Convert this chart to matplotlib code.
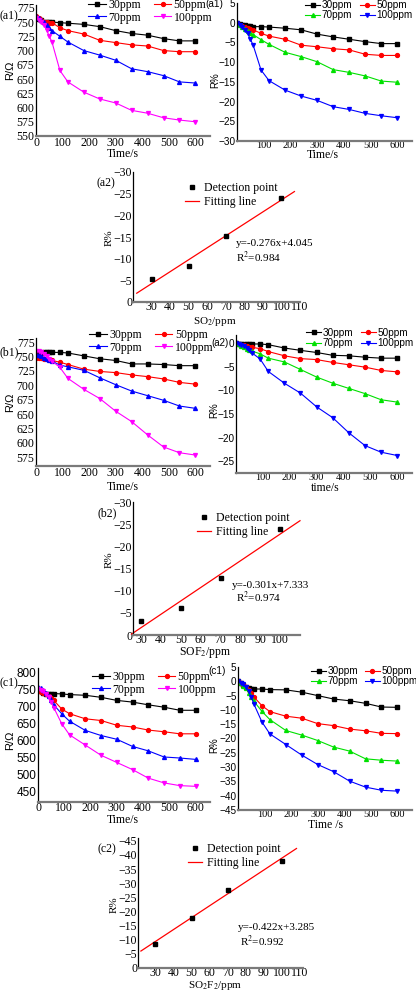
import matplotlib.pyplot as plt
import numpy as np

plt.rcParams["mathtext.fontset"] = "stix"

# sampling times (s)
t = [0, 10, 20, 30, 40, 50, 60, 90, 120, 180, 240, 300, 360, 420, 480, 540, 600]

# (a1) resistance, SO2
a1_r30 = [757, 755, 753, 751, 750, 750, 750, 749, 748, 746, 742, 735, 730, 727, 721, 717, 717]
a1_r50 = [760, 757, 754, 751, 750, 749, 749, 740, 735, 729, 718, 714, 710, 708, 700, 698, 698]
a1_r70 = [760, 757, 753, 750, 745, 740, 735, 725, 715, 700, 692, 683, 668, 663, 656, 645, 643]
a1_r100 = [757, 754, 750, 745, 736, 725, 715, 665, 645, 627, 615, 608, 595, 590, 582, 578, 575]
# (a1) response %
a1_p30 = [0, -0.3, -0.5, -0.7, -0.8, -0.9, -1.0, -1.0, -1.1, -1.4, -1.8, -2.9, -3.6, -4.2, -4.8, -5.3, -5.3]
a1_p50 = [0, -0.5, -0.8, -1.0, -1.3, -1.6, -1.8, -2.7, -3.4, -4.2, -5.7, -6.1, -6.6, -6.9, -8.0, -8.3, -8.3]
a1_p70 = [0, -0.5, -1.0, -1.5, -2.0, -2.5, -3.0, -4.3, -5.5, -7.5, -8.6, -9.9, -11.9, -12.6, -13.5, -14.8, -15.1]
a1_p100 = [0, -0.6, -1.2, -1.8, -2.7, -4.2, -5.6, -12.0, -14.7, -17.1, -18.6, -19.7, -21.3, -22.0, -23.0, -23.6, -24.1]

# (b1) resistance, SOF2
b1_r30 = [752, 754, 756, 757, 757, 757, 757, 757, 756, 751, 746, 743, 737, 737, 736, 734, 734]
b1_r50 = [748, 747, 747, 746, 745, 744, 743, 740, 736, 728, 724, 722, 718, 715, 711, 705, 702]
b1_r70 = [753, 752, 750, 748, 746, 744, 742, 735, 732, 726, 713, 701, 690, 682, 674, 664, 660]
b1_r100 = [760, 759, 757, 754, 750, 746, 742, 731, 712, 693, 677, 655, 637, 614, 593, 583, 579]
b1_p30 = [0, -0.1, -0.1, -0.2, -0.2, -0.2, -0.2, -0.2, -0.35, -1.05, -1.55, -2.0, -2.6, -2.7, -3.0, -3.2, -3.2]
b1_p50 = [0, -0.2, -0.4, -0.5, -0.6, -0.8, -0.9, -1.2, -1.8, -2.7, -3.3, -3.5, -4.1, -4.6, -5.1, -5.8, -6.1]
b1_p70 = [0, -0.3, -0.6, -0.9, -1.2, -1.5, -1.7, -2.3, -3.2, -4.0, -5.6, -7.2, -8.5, -9.6, -10.7, -12.0, -12.5]
b1_p100 = [0, -0.2, -0.4, -0.6, -1.0, -1.5, -2.1, -3.4, -6.0, -8.5, -10.6, -13.5, -15.8, -19.0, -21.7, -23.1, -23.8]

# (c1) resistance, SO2F2
c1_r30 = [750, 745, 740, 738, 738, 738, 738, 737, 735, 733, 727, 718, 713, 705, 698, 689, 689]
c1_r50 = [745, 742, 739, 736, 732, 726, 718, 693, 679, 664, 659, 645, 640, 631, 626, 620, 620]
c1_r70 = [757, 754, 748, 740, 730, 718, 705, 679, 657, 630, 615, 604, 583, 570, 552, 549, 545]
c1_r100 = [750, 748, 745, 738, 727, 713, 697, 650, 617, 587, 557, 536, 515, 490, 476, 468, 466]
c1_p30 = [0, -0.6, -1.2, -2.0, -2.5, -2.7, -2.7, -2.7, -2.9, -3.0, -3.8, -5.0, -6.2, -6.8, -7.7, -9.0, -9.1]
c1_p50 = [0, -0.5, -1.2, -2.0, -3.0, -4.0, -5.5, -8.5, -10.6, -12.2, -12.9, -14.8, -15.5, -16.7, -17.3, -18.2, -18.3]
c1_p70 = [0, -0.5, -1.5, -2.5, -4.0, -5.5, -7.0, -10.5, -13.4, -17.2, -18.8, -20.7, -23.0, -24.4, -27.1, -27.6, -27.9]
c1_p100 = [0, -0.5, -1.0, -2.0, -3.5, -5.5, -8.0, -14.2, -18.4, -22.1, -25.8, -29.1, -31.6, -34.9, -37.0, -38.1, -38.4]

# fitting panels
conc = [30, 50, 70, 100]
a2_det = [-5.2, -8.3, -15.2, -24.0]
b2_det = [-3.1, -6.0, -12.8, -23.8]
c2_det = [-8.4, -17.7, -27.6, -37.8]
a2_fit = (-0.276, 4.045)
b2_fit = (-0.301, 7.333)
c2_fit = (-0.422, 3.285)
a2_fx = [22, 107]
b2_fx = [25, 110]
c2_fx = [22, 108]

labels = ["30ppm", "50ppm", "70ppm", "100ppm"]
markers = ["s", "o", "^", "v"]
col_left = ["black", "red", "blue", "magenta"]
col_right = ["black", "red", "#00e000", "blue"]

SERIF = "Liberation Serif"
SANS = "Liberation Sans"

W, H = 416, 992
fig = plt.figure(figsize=(W / 100, H / 100), dpi=100)


def fx(x):
    return x / W


def fy(y):
    return 1 - y / H


def add_ax(l, t_, r, b):
    ax = fig.add_axes([l / W, 1 - b / H, (r - l) / W, (b - t_) / H])
    ax.set_facecolor("none")
    ax.spines["top"].set_visible(False)
    ax.spines["right"].set_visible(False)
    ax.spines["left"].set_color("black")
    ax.spines["left"].set_linewidth(0.9)
    ax.spines["bottom"].set_color("#7a7a7a")
    ax.spines["bottom"].set_linewidth(1.6)
    ax.tick_params(length=0, pad=1)
    return ax


def style_ticks(ax, xfont, yfont, xs, ys):
    for lb in ax.get_xticklabels():
        lb.set_fontfamily(xfont)
        lb.set_fontsize(xs)
    for lb in ax.get_yticklabels():
        lb.set_fontfamily(yfont)
        lb.set_fontsize(ys)


def series(ax, data, colors, lx, ly, font, fs, colsp):
    hs = []
    for vals, c, m, lab in zip(data, colors, markers, labels):
        h, = ax.plot(t, vals, color=c, marker=m, ms=2.8, lw=0.8, label=lab)
        hs.append(h)
    ax.set_xlim(0, 655)
    order = [hs[0], hs[2], hs[1], hs[3]]
    ax.legend(order, [h.get_label() for h in order], ncol=2, frameon=False,
              loc="upper left", bbox_to_anchor=(fx(lx), fy(ly)),
              bbox_transform=fig.transFigure, borderpad=0, borderaxespad=0,
              handlelength=1.5, handletextpad=0.2, columnspacing=colsp,
              labelspacing=0.05, prop={"family": font, "size": fs})


def fit_panel(ax, det, fit, fxr, xlim, ylim, lx, ly, eq_x, eq_y, r2_x, r2_y, eq, r2):
    xs = np.array(fxr, dtype=float)
    ax.plot(xs, fit[0] * xs + fit[1], color="red", lw=0.9, clip_on=False,
            label="Fitting line")
    ax.plot(conc, det, ls="none", marker="s", ms=2.2, color="black",
            label="Detection point")
    ax.set_xlim(*xlim)
    ax.set_ylim(*ylim)
    ax.set_xticks(range(30, 111, 10))
    h, l = ax.get_legend_handles_labels()
    ax.legend(h[::-1], l[::-1], frameon=False, loc="upper left",
              bbox_to_anchor=(fx(lx), fy(ly)), bbox_transform=fig.transFigure,
              borderpad=0, borderaxespad=0, handlelength=1.2,
              handletextpad=0.4, labelspacing=0.15,
              prop={"family": SERIF, "size": 8.5})
    fig.text(fx(eq_x), fy(eq_y), eq, family=SERIF, size=8, va="center")
    fig.text(fx(r2_x), fy(r2_y), r2, family=SERIF, size=8, va="center")
    ax.tick_params(axis="x", pad=-1)
    ax.tick_params(axis="y", pad=0.5)


def txt(x, y, s, font=SERIF, size=8.5, **kw):
    fig.text(fx(x), fy(y), s, family=font, size=size, ha=kw.pop("ha", "center"),
             va=kw.pop("va", "center"), **kw)


# ---------- row a ----------
ax = add_ax(36, 5, 210, 136)
series(ax, [a1_r30, a1_r50, a1_r70, a1_r100], col_left, 88, -1, SERIF, 8.5, 1.1)
ax.set_ylim(550, 780)
ax.set_yticks(range(550, 776, 25))
ax.set_xticks(range(0, 601, 100))
style_ticks(ax, SERIF, SERIF, 8.5, 8.5)
txt(0, 16, "(a1)", ha="left")
txt(10, 70, "R/Ω", SANS, 8, rotation=90)
txt(123, 154, "Time/s")

ax = add_ax(237, 3, 412, 141)
series(ax, [a1_p30, a1_p50, a1_p70, a1_p100], col_right, 305, 0, SANS, 7.2, 0.7)
ax.set_ylim(-30, 5)
ax.set_yticks(range(-30, 6, 5))
ax.set_xticks(range(100, 601, 100))
ax.tick_params(axis="x", pad=0)
style_ticks(ax, SERIF, SANS, 7.5, 7.2)
txt(214, 4, "(a1)", SANS, 7.2)
txt(215, 80, "R%", SANS, 7, rotation=90)
txt(323, 155, "Time/s")

ax = add_ax(133, 172, 300, 302)
fit_panel(ax, a2_det, a2_fit, a2_fx, (20, 110), (0, -30), 185, 182,
          236, 243, 236, 257, "y=-0.276x+4.045", "R$^2$=0.984")
ax.set_yticks(range(-30, 1, 5))
style_ticks(ax, SERIF, SERIF, 8.5, 8.5)
txt(106, 183, "(a2)")
txt(109, 238, "R%", SERIF, 8, rotation=90)
txt(215, 321, "SO$_2$/ppm", size=8)

# ---------- row b ----------
ax = add_ax(36, 338, 210, 466)
series(ax, [b1_r30, b1_r50, b1_r70, b1_r100], col_left, 89, 329, SERIF, 8.5, 1.1)
ax.set_ylim(560, 782)
ax.set_yticks(range(575, 776, 25))
ax.set_xticks(range(0, 601, 100))
style_ticks(ax, SERIF, SERIF, 8.5, 8.5)
txt(0, 352, "(b1)", ha="left")
txt(10, 402, "R/Ω", SANS, 8, rotation=90)
txt(123, 487, "Time/s")

ax = add_ax(236, 335, 412, 473)
series(ax, [b1_p30, b1_p50, b1_p70, b1_p100], col_right, 306, 328, SANS, 7.2, 0.7)
ax.set_ylim(-27.5, 1.7)
ax.set_yticks(range(-25, 1, 5))
ax.set_xticks(range(100, 601, 100))
ax.tick_params(axis="x", pad=0)
style_ticks(ax, SERIF, SANS, 7.5, 7.2)
txt(220, 343, "(a2)", SANS, 7)
txt(214, 410, "R%", SANS, 7, rotation=90)
txt(325, 488, "time/s")

ax = add_ax(133, 502, 300, 635)
fit_panel(ax, b2_det, b2_fit, b2_fx, (25.8, 104), (0, -30), 197, 512,
          232, 586, 236, 597, "y=-0.301x+7.333", "R$^2$=0.974")
ax.set_xticks(range(30, 101, 10))
ax.set_yticks(range(-30, 1, 5))
style_ticks(ax, SERIF, SERIF, 8.5, 8.5)
txt(107, 513, "(b2)")
txt(109, 560, "R%", SERIF, 8, rotation=90)
txt(205, 653, "SOF$_2$/ppm")

# ---------- row c ----------
ax = add_ax(38, 668, 210, 802)
series(ax, [c1_r30, c1_r50, c1_r70, c1_r100], col_left, 92, 671, SERIF, 8.5, 1.1)
ax.set_ylim(420, 813)
ax.set_yticks(range(450, 801, 50))
ax.set_xticks(range(0, 601, 100))
ax.tick_params(axis="x", pad=0)
style_ticks(ax, SERIF, SANS, 8.5, 8.5)
txt(0, 683, "(c1)", ha="left")
txt(10, 740, "R/Ω", SANS, 8, rotation=90)
txt(123, 820, "Time/s")

ax = add_ax(238, 667, 412, 810)
series(ax, [c1_p30, c1_p50, c1_p70, c1_p100], col_right, 311, 666, SANS, 7.2, 0.6)
ax.set_ylim(-45, 5)
ax.set_yticks(range(-45, 6, 5))
ax.set_xticks(range(100, 601, 100))
ax.tick_params(axis="x", pad=0)
style_ticks(ax, SERIF, SANS, 7.5, 7.2)
txt(217, 671, "(c1)", SANS, 7.2)
txt(214, 745, "R%", SANS, 7, rotation=90)
txt(325, 825, "Time /s")

ax = add_ax(138, 838, 303, 968)
fit_panel(ax, c2_det, c2_fit, c2_fx, (20.4, 111.6), (0, -46), 188, 843,
          238, 927, 240, 941, "y=-0.422x+3.285", "R$^2$=0.992")
ax.set_yticks(range(-45, 1, 5))
style_ticks(ax, SERIF, SERIF, 8.5, 8.5)
txt(107, 849, "(c2)")
txt(114, 905, "R%", SERIF, 8, rotation=90)
txt(215, 985, "SO$_2$F$_2$/ppm", size=8)

fig.savefig("out.png", dpi=100)
